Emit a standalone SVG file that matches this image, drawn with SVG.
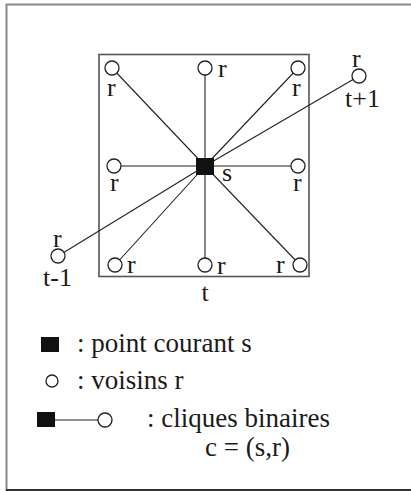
<svg xmlns="http://www.w3.org/2000/svg" width="411" height="491" viewBox="0 0 411 491">
<style>
text{font-family:"Liberation Serif","Times New Roman",serif;font-size:26px;fill:#1a1a1a}
.lg{font-size:27px}
.edge{stroke:#222;stroke-width:1.1;fill:none}
.nb{fill:#fff;stroke:#222;stroke-width:1.3}
.cur{fill:#111}
</style>
<rect width="411" height="491" fill="#fff"/>
<g id="frame">
<path d="M6.5,491 V4.5 H411" fill="none" stroke="#8a8a8a" stroke-width="2"/>
<path d="M6,490 H411" fill="none" stroke="#333" stroke-width="2"/>
</g>
<g id="plane">
<rect x="99" y="54.5" width="210" height="222" fill="none" stroke="#555" stroke-width="1.6"/>
<text x="205" y="301" text-anchor="middle">t</text>
</g>
<g id="connectors">
<line class="edge" x1="205" y1="166" x2="112" y2="68"/>
<line class="edge" x1="205" y1="166" x2="205" y2="68"/>
<line class="edge" x1="205" y1="166" x2="298" y2="68"/>
<line class="edge" x1="205" y1="166" x2="114" y2="166"/>
<line class="edge" x1="205" y1="166" x2="298" y2="166"/>
<line class="edge" x1="205" y1="166" x2="115" y2="265"/>
<line class="edge" x1="205" y1="166" x2="205" y2="265"/>
<line class="edge" x1="205" y1="166" x2="300" y2="265"/>
<line class="edge" x1="205" y1="166" x2="359" y2="76"/>
<line class="edge" x1="205" y1="166" x2="58" y2="256"/>
</g>
<g id="s">
<rect class="cur" x="196" y="158" width="18" height="17"/>
<text x="222" y="181">s</text>
</g>
<g id="r-tl"><circle class="nb" cx="112" cy="68" r="7"/><text x="107" y="96">r</text></g>
<g id="r-tm"><circle class="nb" cx="205" cy="68" r="7"/><text x="218" y="77">r</text></g>
<g id="r-tr"><circle class="nb" cx="298" cy="68" r="7"/><text x="292" y="96">r</text></g>
<g id="r-ml"><circle class="nb" cx="114" cy="166" r="7"/><text x="110" y="191">r</text></g>
<g id="r-mr"><circle class="nb" cx="298" cy="166" r="7"/><text x="293" y="191">r</text></g>
<g id="r-bl"><circle class="nb" cx="115" cy="265" r="7"/><text x="127" y="273">r</text></g>
<g id="r-bm"><circle class="nb" cx="205" cy="265" r="7"/><text x="217" y="274">r</text></g>
<g id="r-br"><circle class="nb" cx="300" cy="265" r="7"/><text x="276" y="273">r</text></g>
<g id="r-next"><circle class="nb" cx="359" cy="76" r="7"/><text x="352" y="67">r</text><text x="345" y="107">t+1</text></g>
<g id="r-prev"><circle class="nb" cx="58" cy="256" r="7"/><text x="53" y="247">r</text><text x="43" y="286">t-1</text></g>
<g id="legend-s">
<rect class="cur" x="41" y="337" width="18" height="15"/>
<text class="lg" x="77" y="352">: point courant s</text>
</g>
<g id="legend-r">
<circle class="nb" cx="52" cy="381" r="6"/>
<text class="lg" x="77" y="389">: voisins r</text>
</g>
<g id="legend-c">
<rect class="cur" x="37" y="412" width="18" height="15"/>
<line class="edge" x1="55" y1="420" x2="98" y2="420"/>
<circle class="nb" cx="105" cy="420" r="7"/>
<text class="lg" x="147" y="427">: cliques binaires</text>
<text class="lg" x="205" y="456">c = (s,r)</text>
</g>
</svg>
